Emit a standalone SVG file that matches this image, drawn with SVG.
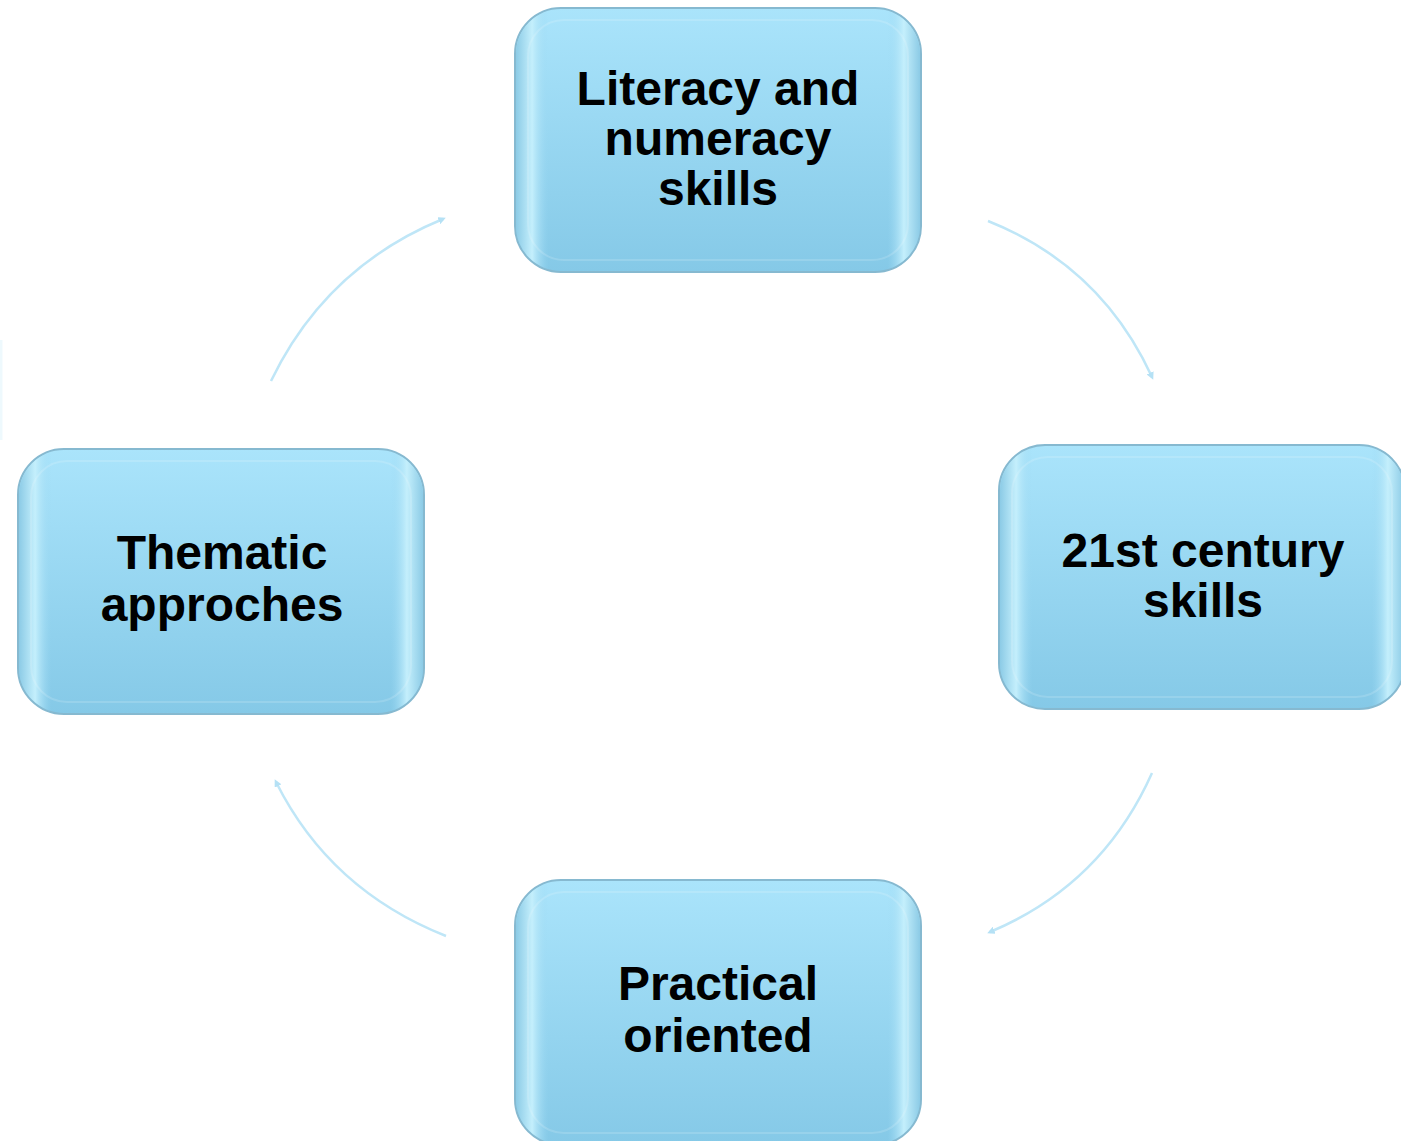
<svg xmlns="http://www.w3.org/2000/svg" width="1401" height="1141" viewBox="0 0 1401 1141">
<defs>
<linearGradient id="fill" x1="0" y1="0" x2="0" y2="1">
<stop offset="0" stop-color="#aae4fb"/>
<stop offset="1" stop-color="#85c9e7"/>
</linearGradient>
<linearGradient id="edge" x1="0" y1="0" x2="1" y2="0">
<stop offset="0" stop-color="#8ccbe6"/>
<stop offset="0.04" stop-color="#c4effc"/>
<stop offset="0.08" stop-color="#9bd8f2" stop-opacity="0"/>
<stop offset="0.92" stop-color="#9bd8f2" stop-opacity="0"/>
<stop offset="0.96" stop-color="#c4effc"/>
<stop offset="1" stop-color="#8ccbe6"/>
</linearGradient>
<marker id="ah" viewBox="0 0 10 10" refX="6" refY="5" markerWidth="3" markerHeight="3" orient="auto" markerUnits="strokeWidth">
<path d="M0,0 L10,5 L0,10 z" fill="#b5e1f5"/>
</marker>
</defs>
<style>
.box{fill:url(#fill);stroke:#86b9d0;stroke-width:2}
.bevel{fill:url(#edge)}
.inner{fill:none;stroke:#ffffff;stroke-opacity:0.15;stroke-width:2}
.lbl{font-family:"Liberation Sans",Arial,sans-serif;font-weight:bold;font-size:48px;fill:#000;text-anchor:middle}
.arc{fill:none;stroke:#bfe6f7;stroke-width:2.5;marker-end:url(#ah)}
</style>
<rect width="1401" height="1141" fill="#ffffff"/>
<line x1="1" y1="340" x2="1" y2="440" stroke="#eef9fd" stroke-width="3"/>
<g id="connectors">
<path class="arc" d="M271,381 Q326,267 443,219"/>
<path class="arc" d="M988,221 Q1101,266 1152,377"/>
<path class="arc" d="M1152,773 Q1102,885 990,932"/>
<path class="arc" d="M446,936 Q330,890 276,782"/>
</g>
<g id="node-top">
<rect class="box" x="515" y="8" width="406" height="264" rx="46"/>
<rect class="bevel" x="516" y="9" width="404" height="262" rx="45"/>
<rect class="inner" x="528" y="20" width="380" height="240" rx="36"/>
<text class="lbl" x="718" y="105">Literacy and</text>
<text class="lbl" x="718" y="155">numeracy</text>
<text class="lbl" x="718" y="205">skills</text>
</g>
<g id="node-right">
<rect class="box" x="999" y="445" width="406" height="264" rx="46"/>
<rect class="bevel" x="1000" y="446" width="404" height="262" rx="45"/>
<rect class="inner" x="1012" y="457" width="380" height="240" rx="36"/>
<text class="lbl" x="1203" y="567">21st century</text>
<text class="lbl" x="1203" y="617">skills</text>
</g>
<g id="node-left">
<rect class="box" x="18" y="449" width="406" height="265" rx="46"/>
<rect class="bevel" x="19" y="450" width="404" height="263" rx="45"/>
<rect class="inner" x="31" y="461" width="380" height="241" rx="36"/>
<text class="lbl" x="222" y="569">Thematic</text>
<text class="lbl" x="222" y="621">approches</text>
</g>
<g id="node-bottom">
<rect class="box" x="515" y="880" width="406" height="265" rx="46"/>
<rect class="bevel" x="516" y="881" width="404" height="263" rx="45"/>
<rect class="inner" x="528" y="892" width="380" height="241" rx="36"/>
<text class="lbl" x="718" y="1000">Practical</text>
<text class="lbl" x="718" y="1052">oriented</text>
</g>
</svg>
